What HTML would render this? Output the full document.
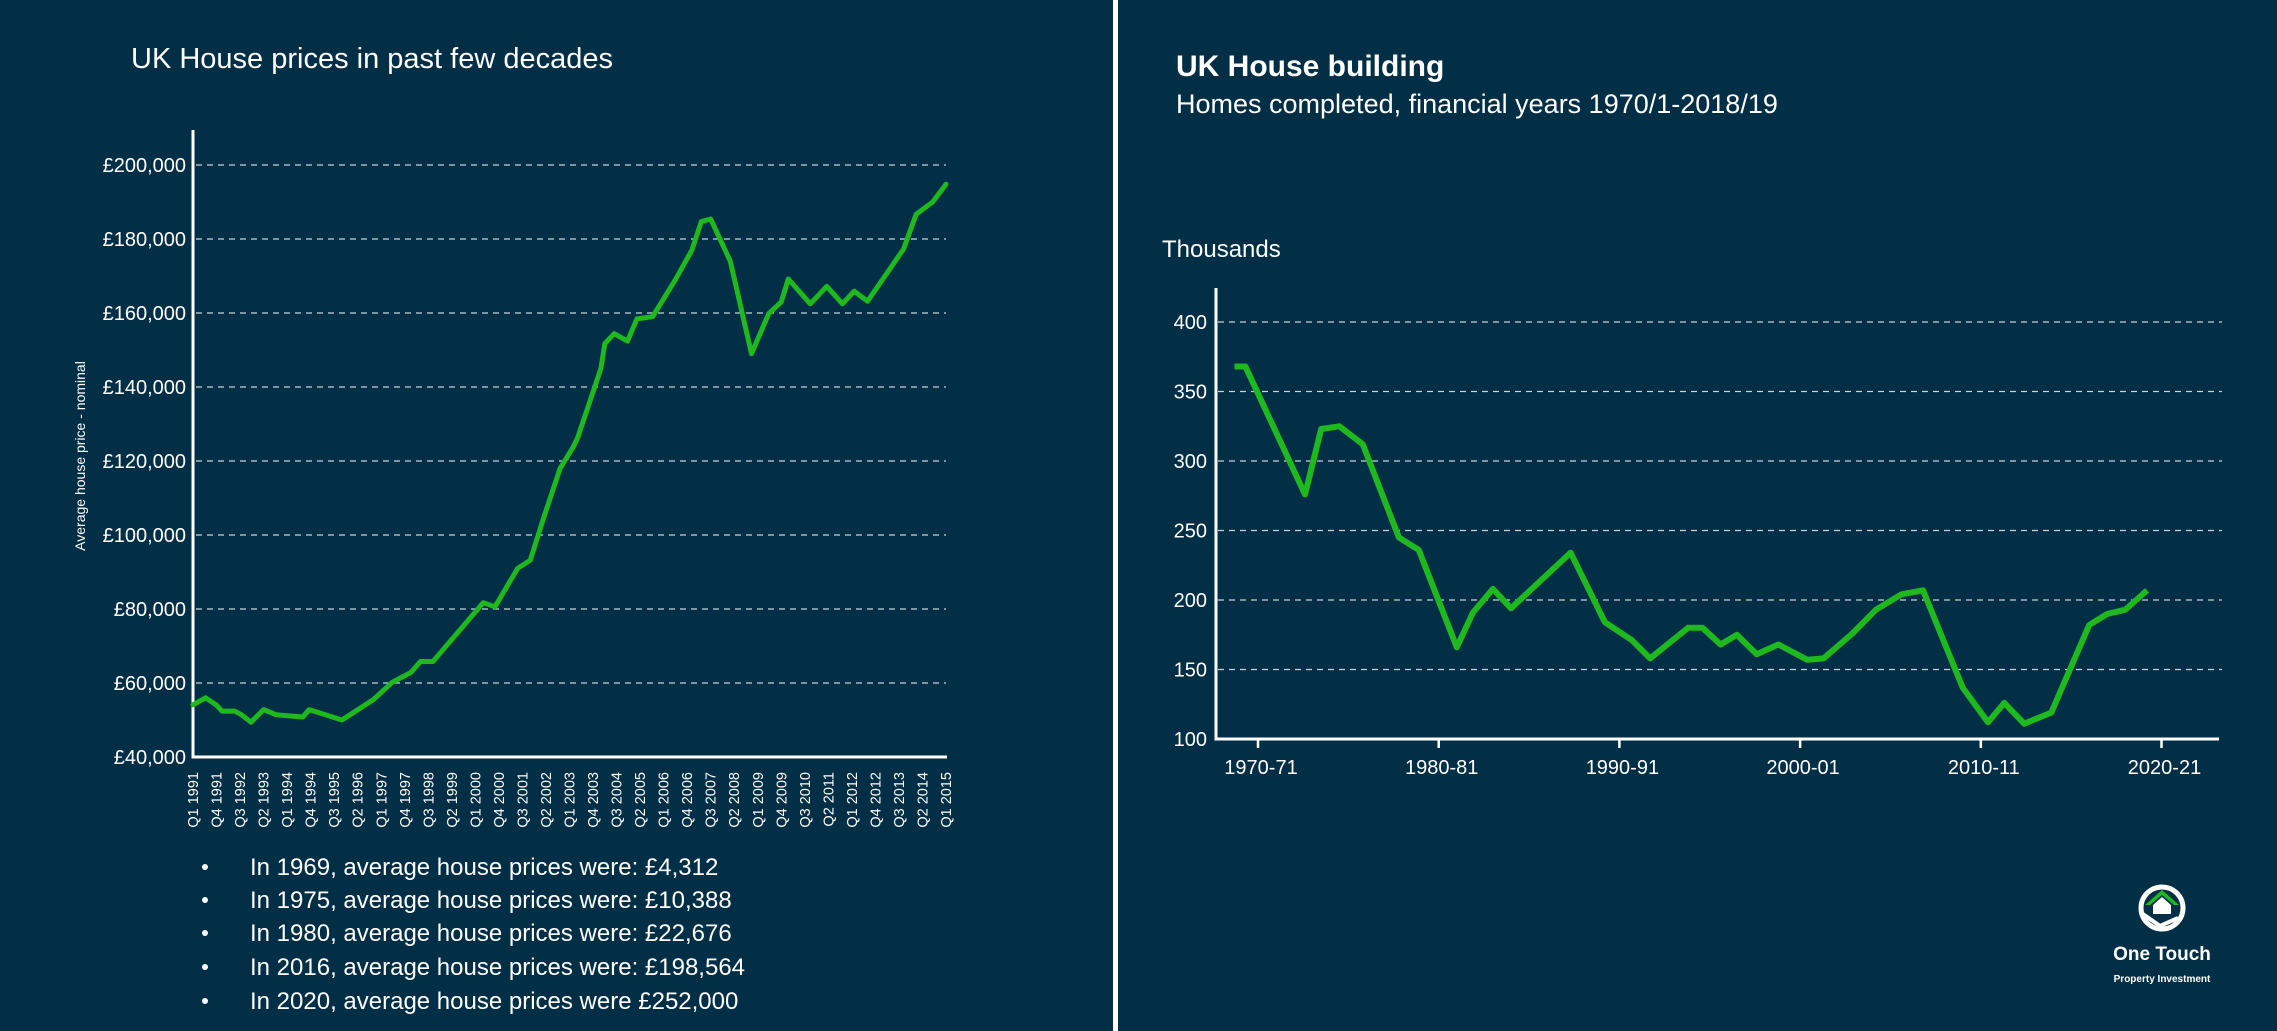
<!DOCTYPE html>
<html><head><meta charset="utf-8"><style>
html,body{margin:0;padding:0;background:#022e46;}
body{width:2277px;height:1031px;overflow:hidden;position:relative;font-family:"Liberation Sans",sans-serif;color:#fff;}
svg{position:absolute;left:0;top:0;}
</style></head><body>
<svg id="chart" width="2277" height="1031" viewBox="0 0 2277 1031" xmlns="http://www.w3.org/2000/svg">
<rect x="0" y="0" width="2277" height="1031" fill="#022e46"/>
<rect x="1113" y="0" width="5" height="1031" fill="#fff"/>
<text x="131" y="68" font-size="29" fill="#fff">UK House prices in past few decades</text>
<text x="1176" y="76" font-size="30" font-weight="bold" fill="#fff">UK House building</text>
<text x="1176" y="113" font-size="27" fill="#fff">Homes completed, financial years 1970/1-2018/19</text>
<text x="1162" y="257" font-size="24" fill="#fff">Thousands</text>
<text transform="translate(85,456) rotate(-90)" text-anchor="middle" font-size="14" fill="#fff">Average house price - nominal</text>
<g id="left"></g>
<g id="right"></g>
<g font-size="24" fill="#fff">
<circle cx="205" cy="867" r="3"/><text x="250" y="875">In 1969, average house prices were: £4,312</text>
<circle cx="205" cy="900" r="3"/><text x="250" y="908">In 1975, average house prices were: £10,388</text>
<circle cx="205" cy="933" r="3"/><text x="250" y="941">In 1980, average house prices were: £22,676</text>
<circle cx="205" cy="967" r="3"/><text x="250" y="975">In 2016, average house prices were: £198,564</text>
<circle cx="205" cy="1001" r="3"/><text x="250" y="1009">In 2020, average house prices were £252,000</text>
</g>
<g>
<circle cx="2162" cy="908" r="21" fill="none" stroke="#fff" stroke-width="5"/>
<path d="M2145 905 L2162 890 L2179 905 L2174 905 L2162 895 L2150 905 Z" fill="#1fb81f"/>
<path d="M2153 905 L2162 897 L2171 905 L2171 914 L2153 914 Z" fill="#fff"/>
<path d="M2140 912 L2160 926 L2178 918" fill="none" stroke="#fff" stroke-width="4"/>
<text x="2162" y="960" text-anchor="middle" font-size="19" font-weight="bold" fill="#fff">One Touch</text>
<text x="2162" y="982" text-anchor="middle" font-size="10" font-weight="bold" fill="#fff">Property Investment</text>
</g>
</svg>
<script>
// Left chart data: quarter index since Q1 1991, price (GBP)
const priceQuarter = [0,1.6,3,3.7,5.3,6.2,7.4,9,10.6,14,14.8,19,23,25.4,27.8,29,30.6,37,38.5,41.4,43,44.7,46.8,48.4,49,52,52.5,53.7,55.4,56.6,58.6,61.5,63.6,64.8,66,68.5,71.2,73.4,75,75.9,78.7,80.8,82.8,84.3,86,90.6,92.2,94.3,96];
const priceValue = [54100,56000,54000,52400,52400,51400,49400,52800,51400,50800,52800,50000,55500,60200,62900,65800,65800,81700,80600,91000,93200,104600,118000,123500,126000,145000,151700,154400,152400,158400,159000,169000,177000,184700,185400,174000,149000,159800,163000,169200,162500,167200,162500,165900,163200,177300,186700,190000,194800];
const priceTicks = [40000,60000,80000,100000,120000,140000,160000,180000,200000];
const priceTickLabels = ["£40,000","£60,000","£80,000","£100,000","£120,000","£140,000","£160,000","£180,000","£200,000"];
const quarterLabels = ["Q1 1991","Q4 1991","Q3 1992","Q2 1993","Q1 1994","Q4 1994","Q3 1995","Q2 1996","Q1 1997","Q4 1997","Q3 1998","Q2 1999","Q1 2000","Q4 2000","Q3 2001","Q2 2002","Q1 2003","Q4 2003","Q3 2004","Q2 2005","Q1 2006","Q4 2006","Q3 2007","Q2 2008","Q1 2009","Q4 2009","Q3 2010","Q2 2011","Q1 2012","Q4 2012","Q3 2013","Q2 2014","Q1 2015"];

// Right chart data: financial year start, completions (thousands)
const buildYear = [1968.7,1969.3,1972.6,1973.5,1974.5,1975.8,1977.8,1978.9,1981,1981.9,1983,1984,1987.3,1989.2,1990.7,1991.7,1993.8,1994.6,1995.6,1996.5,1997.6,1998.8,2000.4,2001.3,2002.9,2004.2,2005.6,2006.8,2009,2010.4,2011.3,2012.4,2013.9,2016,2017,2018,2019.2];
const buildValue = [368,368,276,323,325,312,245,236,166,191,208,194,234,184,171,158,180,180,168,175,161,168,157,158,176,193,204,207,137,112,126,111,119,182,190,193,207];
const buildTicks = [100,150,200,250,300,350,400];
const yearTicks = [1970,1980,1990,2000,2010,2020];
const yearTickLabels = ["1970-71","1980-81","1990-91","2000-01","2010-11","2020-21"];

const NS="http://www.w3.org/2000/svg";
function mk(parent,tag,attrs){const e=document.createElementNS(NS,tag);for(const k in attrs)e.setAttribute(k,attrs[k]);parent.appendChild(e);return e;}

// Left axes
const L=document.getElementById('left');
const lx=q=>193+(q/96)*753;
const ly=v=>757-(v-40000)/160000*592;
priceTicks.forEach((t,i)=>{
  if(i>0){const g=mk(L,'line',{x1:196,x2:946,y1:ly(t),y2:ly(t),stroke:'#c8d2da','stroke-width':1.3,'stroke-dasharray':'6 5'});
  
  }
  const tx=mk(L,'text',{x:186,y:ly(t)+7,'text-anchor':'end','font-size':20,fill:'#fff'});
  tx.textContent=priceTickLabels[i];
  
  
});
quarterLabels.forEach((s,i)=>{
  const x=lx(i*3);
  const tx=mk(L,'text',{transform:`translate(${x+5},772) rotate(-90)`,'text-anchor':'end','font-size':14.5,fill:'#fff'});
  tx.textContent=s;
  
  
});
const la=mk(L,'path',{d:'M193 130 L193 757 L947 757',fill:'none',stroke:'#fff','stroke-width':3});


const lp=mk(L,'path',{d:priceQuarter.map((q,i)=>(i?'L':'M')+lx(q).toFixed(1)+' '+ly(priceValue[i]).toFixed(1)).join(' '),fill:'none',stroke:'#1fb81f','stroke-width':5,'stroke-linejoin':'round','stroke-linecap':'round'});



// Right axes
const R=document.getElementById('right');
const rx=y=>1258+(y-1970)*18.07;
const ry=v=>739-(v-100)/300*417;
buildTicks.forEach(t=>{
  if(t>100){const g=mk(R,'line',{x1:1218,x2:2222,y1:ry(t),y2:ry(t),stroke:'#c8d2da','stroke-width':1.3,'stroke-dasharray':'6 5'});
  
  }
  const tx=mk(R,'text',{x:1207,y:ry(t)+7,'text-anchor':'end','font-size':20,fill:'#fff'});
  tx.textContent=t;
  
  
});
yearTicks.forEach((y,i)=>{
  const tk=mk(R,'line',{x1:rx(y),x2:rx(y),y1:739,y2:748,stroke:'#fff','stroke-width':2.5});
  
  
  const tx=mk(R,'text',{x:rx(y)+3,y:774,'text-anchor':'middle','font-size':20,fill:'#fff'});
  tx.textContent=yearTickLabels[i];
  
  
});
const ra=mk(R,'path',{d:'M1216 288 L1216 739 L2219 739',fill:'none',stroke:'#fff','stroke-width':3});


const rp=mk(R,'path',{d:buildYear.map((y,i)=>(i?'L':'M')+rx(y).toFixed(1)+' '+ry(buildValue[i]).toFixed(1)).join(' '),fill:'none',stroke:'#1fb81f','stroke-width':6,'stroke-linejoin':'round'});


</script>
</body></html>
